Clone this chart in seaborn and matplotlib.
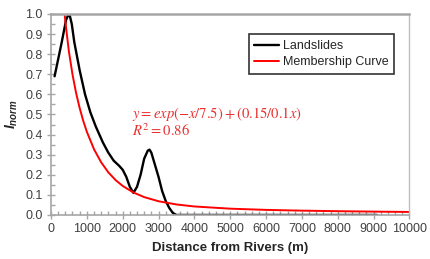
import matplotlib
matplotlib.use("Agg")
import matplotlib.pyplot as plt
import seaborn as sns
import pandas as pd
from matplotlib.ticker import MultipleLocator, FormatStrFormatter

# Landslides (black) curve
land_x = [100, 300, 420, 480, 520, 580, 650, 800, 950, 1100, 1250, 1450, 1600, 1750, 1900,
          2000, 2100, 2200, 2300, 2400, 2500, 2600, 2700, 2750, 2800, 2900, 3000, 3100,
          3200, 3300, 3400, 3500, 4000, 5000, 6000, 7000, 8000, 9100]
land_y = [0.69, 0.86, 0.97, 0.995, 0.995, 0.95, 0.86, 0.72, 0.60, 0.51, 0.44, 0.36, 0.31, 0.27, 0.245,
          0.225, 0.19, 0.14, 0.11, 0.14, 0.20, 0.28, 0.32, 0.325, 0.31, 0.25, 0.19, 0.12,
          0.07, 0.035, 0.01, 0.0, 0.0, 0.0, 0.0, 0.0, 0.0, 0.0]

# Membership curve (red)
mem_x = [100, 200, 300, 400, 500, 600, 700, 800, 900, 1000, 1200, 1400, 1600, 1800, 2000,
         2300, 2600, 3000, 3500, 4000, 5000, 6000, 7000, 8000, 9000, 10000]
mem_y = [2.375, 1.516, 1.170, 0.962, 0.813, 0.699, 0.607, 0.532, 0.468, 0.414, 0.327, 0.262,
         0.212, 0.174, 0.1445, 0.1118, 0.0889, 0.0683, 0.0523, 0.0423, 0.0313, 0.0253, 0.0215,
         0.0188, 0.0167, 0.015]

x_ticks = list(range(0, 10001, 1000))
y_ticks = [i / 10 for i in range(11)]

sns.set_style("white")
plt.rcParams['font.family'] = ['Liberation Sans', 'DejaVu Sans']
plt.rcParams['mathtext.fontset'] = 'custom'
plt.rcParams['mathtext.it'] = 'Liberation Sans:italic:bold'
plt.rcParams['mathtext.rm'] = 'Liberation Sans:bold'

fig = plt.figure(figsize=(4.30, 2.59), dpi=100)
ax = fig.add_axes([0.1186, 0.170, 0.8334, 0.776])

df_l = pd.DataFrame({"x": land_x, "y": land_y})
df_m = pd.DataFrame({"x": mem_x, "y": mem_y})
sns.lineplot(data=df_l, x="x", y="y", ax=ax, color="black", linewidth=1.7, label="Landslides", sort=False)
sns.lineplot(data=df_m, x="x", y="y", ax=ax, color="#FF0000", linewidth=1.4, label="Membership Curve", sort=False)

ax.set_xlim(0, 10000)
ax.set_ylim(0, 1.0)
ax.set_xticks(x_ticks)
ax.set_yticks(y_ticks)
ax.xaxis.set_minor_locator(MultipleLocator(200))
ax.yaxis.set_minor_locator(MultipleLocator(0.05))
ax.yaxis.set_major_formatter(FormatStrFormatter('%.1f'))

grey = "#A6A6A6"
for s in ["left", "bottom"]:
    ax.spines[s].set_color(grey)
    ax.spines[s].set_linewidth(1.2)
ax.spines["top"].set_color(grey)
ax.spines["top"].set_linewidth(1.8)
ax.spines["right"].set_color("#BFBFBF")
ax.spines["right"].set_linewidth(1.0)

ax.tick_params(axis="both", which="major", direction="inout", length=6, width=1.0,
               color=grey, labelsize=9, labelcolor="#404040", pad=3,
               bottom=True, left=True)
ax.tick_params(axis="both", which="minor", direction="in", length=3, width=1.0,
               color=grey, bottom=True, left=True)

ax.set_xlabel("Distance from Rivers (m)", fontsize=9.5, fontweight="bold", color="#262626", labelpad=5)
ax.set_ylabel(r"$I_{norm}$", fontsize=10, color="#262626", labelpad=4)

ax.text(0.225, 0.50, r"$y = exp(-x/7.5) + (0.15/0.1x)$", transform=ax.transAxes,
        color="#E8302F", fontsize=10.5, math_fontfamily="stix", va="center", ha="left")
ax.text(0.225, 0.42, r"$R^2 = 0.86$", transform=ax.transAxes,
        color="#E8302F", fontsize=10.5, math_fontfamily="stix", va="center", ha="left")

leg = ax.legend(loc="upper right", bbox_to_anchor=(0.975, 0.93), fontsize=9,
                frameon=True, fancybox=False, edgecolor="black", handlelength=2.0,
                handletextpad=0.3, borderpad=0.45, labelspacing=0.35)
leg.get_frame().set_linewidth(1.2)
for t in leg.get_texts():
    t.set_color("#262626")

fig.savefig("out.png", dpi=100)
